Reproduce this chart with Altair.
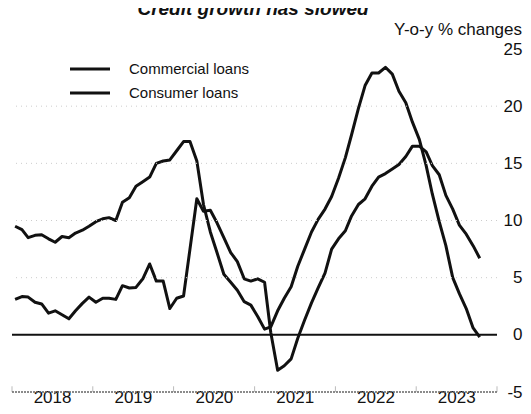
import altair as alt
import pandas as pd

series_names = ["Commercial loans", "Consumer loans"]

commercial = [9.5, 9.2, 8.5, 8.7, 8.75, 8.4, 8.1, 8.6, 8.5, 8.9,
              9.15, 9.5, 9.9, 10.15, 10.25, 10.0, 11.6, 12.0, 13.0, 13.4,
              13.8, 15.0, 15.2, 15.3, 16.1, 16.9, 16.9, 15.2, 11.4, 9.0,
              7.2, 5.3, 4.6, 3.9, 2.9, 2.6, 1.6, 0.5, 0.7, 2.1,
              3.2, 4.2, 6.0, 7.5, 9.0, 10.1, 11.0, 12.1, 13.7, 15.5,
              17.5, 19.8, 21.8, 22.9, 22.9, 23.4, 22.8, 21.3, 20.3, 18.6,
              17.1, 14.8, 12.3, 9.9, 7.8, 5.0, 3.6, 2.3, 0.6, -0.2]

consumer = [3.1, 3.35, 3.3, 2.85, 2.7, 1.9, 2.1, 1.75, 1.4, 2.1,
            2.75, 3.3, 2.85, 3.2, 3.2, 3.1, 4.3, 4.1, 4.15, 4.9,
            6.2, 4.7, 4.7, 2.3, 3.2, 3.4, 7.5, 11.9, 10.8, 10.9,
            9.8, 8.5, 7.2, 6.4, 4.9, 4.7, 4.9, 4.6, 0.2, -3.1,
            -2.7, -2.1, -0.3, 1.3, 2.8, 4.1, 5.4, 7.5, 8.4, 9.1,
            10.4, 11.4, 11.9, 13.0, 13.8, 14.1, 14.5, 14.9, 15.6, 16.5,
            16.5, 16.0, 14.8, 14.0, 12.2, 11.0, 9.6, 8.8, 7.8, 6.7]

months = [d.strftime("%Y-%m-15") for d in pd.date_range("2018-01-01", periods=len(commercial), freq="MS")]

year_labels = [2018, 2019, 2020, 2021, 2022, 2023]
year_bounds = ["2018-01-01", "2019-01-01", "2020-01-01", "2021-01-01", "2022-01-01", "2023-01-01", "2024-01-01"]
y_ticks = [-5, 0, 5, 10, 15, 20, 25]
grid_values = [5, 10, 15, 20]

title_text = "Credit growth has slowed"
unit_text = "Y-o-y % changes"

FONT = "Liberation Sans"
INK = "#111111"

df = pd.DataFrame({
    "date": months * 2,
    "value": commercial + consumer,
    "series": [series_names[0]] * len(commercial) + [series_names[1]] * len(consumer),
})

x_scale = alt.Scale(domain=["2018-01-01", "2024-01-01"])
y_scale = alt.Scale(domain=[-5, 25], nice=False, zero=False)

lines = alt.Chart(df).mark_line(strokeWidth=3, strokeJoin="round").encode(
    x=alt.X("date:T", scale=x_scale, axis=alt.Axis(
        values=[f"{y}-07-01" for y in year_labels],
        format="%Y", ticks=False, domain=False, grid=False, title=None,
        labelFontSize=17, labelFont=FONT, labelColor=INK,
        labelBaseline="alphabetic", labelPadding=10)),
    y=alt.Y("value:Q", scale=y_scale, axis=alt.Axis(
        orient="right", values=y_ticks, labelExpr="datum.value + ''",
        ticks=False, domain=False, grid=False, title=None,
        labelFontSize=17, labelFont=FONT, labelColor=INK,
        labelAlign="right", labelPadding=25)),
    detail="series:N",
    color=alt.value(INK),
)

grid = alt.Chart(pd.DataFrame({"value": grid_values})).mark_rule(
    color="#cccccc", strokeWidth=1, strokeDash=[1, 4]
).encode(y=alt.Y("value:Q"))

ticks = alt.Chart(pd.DataFrame({
    "date": year_bounds, "value": [-5] * len(year_bounds), "top": [-4.5] * len(year_bounds)
})).mark_rule(color="#bbbbbb", strokeWidth=1).encode(
    x=alt.X("date:T"), y=alt.Y("value:Q"), y2="top:Q",
)

bottom = alt.Chart(pd.DataFrame({"value": [-5]})).mark_rule(
    color="#666666", strokeWidth=1.5, strokeDash=[2, 1]
).encode(y=alt.Y("value:Q"))

zero = alt.Chart(pd.DataFrame({"value": [0]})).mark_rule(
    color=INK, strokeWidth=2
).encode(y=alt.Y("value:Q"))

legend_layers = []
for i, name in enumerate(series_names):
    ldf = pd.DataFrame({"series": [name]})
    yy = 20 + 24 * i
    legend_layers.append(
        alt.Chart(ldf).mark_rule(color=INK, strokeWidth=3).encode(
            x=alt.value(58), x2=alt.value(98), y=alt.value(yy))
    )
    legend_layers.append(
        alt.Chart(ldf).mark_text(align="left", baseline="middle", fontSize=15, font=FONT, color=INK).encode(
            x=alt.value(117), y=alt.value(yy), text="series:N")
    )

unit = alt.Chart(pd.DataFrame({"t": [unit_text]})).mark_text(
    align="right", baseline="middle", fontSize=17, font=FONT, color=INK
).encode(x=alt.value(510), y=alt.value(-19), text="t:N")

title = alt.Chart(pd.DataFrame({"t": [title_text]})).mark_text(
    align="center", baseline="alphabetic", fontSize=19, font=FONT, fontWeight="bold",
    fontStyle="italic", color=INK
).encode(x=alt.value(241), y=alt.value(-34), text="t:N")

chart = alt.layer(lines, grid, ticks, bottom, zero, *legend_layers, unit, title).properties(
    width=485, height=343,
    autosize=alt.AutoSizeParams(type="none"),
    padding={"left": 4, "top": 41, "right": 26, "bottom": 14},
    background="white",
).configure_view(stroke=None)

chart.save("out.html", embed_options={"renderer": "svg", "actions": False})
